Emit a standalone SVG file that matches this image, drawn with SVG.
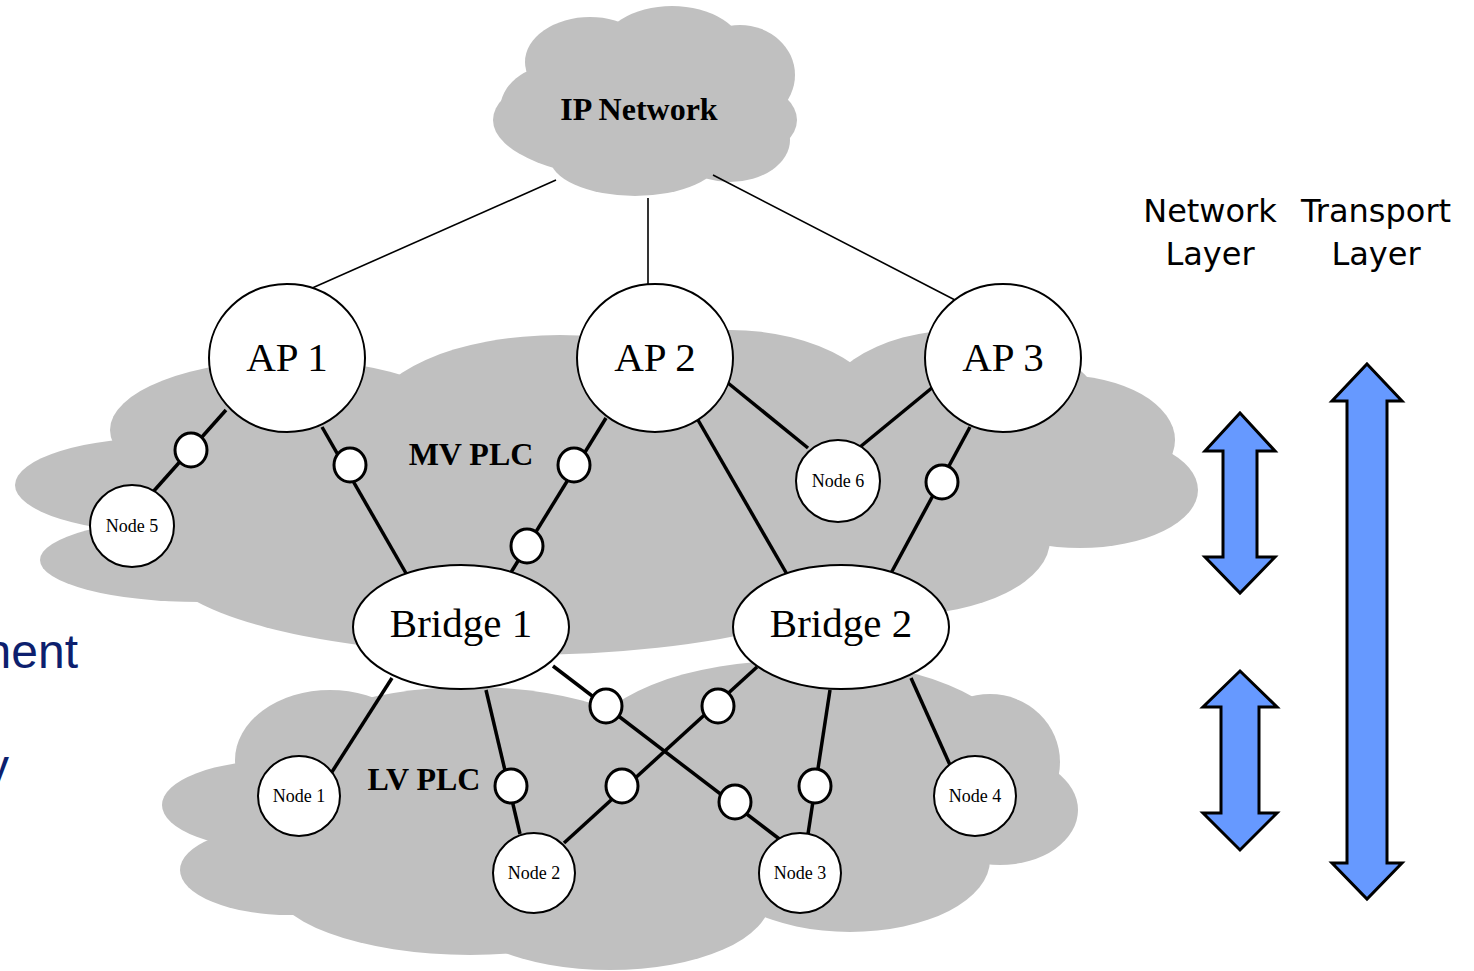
<svg xmlns="http://www.w3.org/2000/svg" width="1474" height="971" viewBox="0 0 1474 971">
  <style>
    .cloud { fill: #C0C0C0; stroke: none; }
    .node { fill: #FFFFFF; stroke: #000000; stroke-width: 2; }
    .rep { fill: #FFFFFF; stroke: #000000; stroke-width: 3; }
    .link { stroke: #000000; stroke-width: 3.5; fill: none; }
    .uplink { stroke: #000000; stroke-width: 1.6; fill: none; }
    .big { font-family: "Liberation Serif", "Times New Roman", serif; font-size: 41px; text-anchor: middle; fill: #000; }
    .small { font-family: "Liberation Serif", "Times New Roman", serif; font-size: 18px; text-anchor: middle; fill: #000; }
    .bold { font-family: "Liberation Serif", "Times New Roman", serif; font-size: 32px; font-weight: bold; text-anchor: middle; fill: #000; }
    .layer { font-family: "DejaVu Sans", "Liberation Sans", sans-serif; font-size: 32px; text-anchor: middle; fill: #000; }
    .slide { font-family: "Liberation Sans", Arial, sans-serif; font-size: 48px; fill: #0D1F6E; }
    .arrow { fill: #6699FF; stroke: #000000; stroke-width: 3; stroke-linejoin: miter; }
  </style>

  <!-- slide text clipped at the left edge -->
  <text class="slide" x="78" y="668" text-anchor="end">nent</text>
  <text class="slide" x="9" y="783" text-anchor="end">y</text>

  <!-- LV PLC cloud -->
  <g id="lv-cloud" class="cloud">
    <ellipse cx="330" cy="760" rx="95" ry="70"/>
    <ellipse cx="280" cy="805" rx="118" ry="45"/>
    <ellipse cx="290" cy="870" rx="110" ry="45"/>
    <ellipse cx="470" cy="880" rx="200" ry="75"/>
    <ellipse cx="610" cy="900" rx="160" ry="70"/>
    <ellipse cx="470" cy="765" rx="200" ry="78"/>
    <ellipse cx="800" cy="745" rx="210" ry="85"/>
    <ellipse cx="990" cy="762" rx="70" ry="68"/>
    <ellipse cx="1000" cy="810" rx="78" ry="55"/>
    <ellipse cx="850" cy="860" rx="140" ry="72"/>
    <ellipse cx="620" cy="810" rx="250" ry="100"/>
  </g>

  <!-- MV PLC cloud -->
  <g id="mv-cloud" class="cloud">
    <ellipse cx="170" cy="485" rx="155" ry="48"/>
    <ellipse cx="200" cy="560" rx="160" ry="42"/>
    <ellipse cx="290" cy="430" rx="180" ry="70"/>
    <ellipse cx="560" cy="420" rx="190" ry="85"/>
    <ellipse cx="730" cy="425" rx="160" ry="95"/>
    <ellipse cx="960" cy="430" rx="150" ry="100"/>
    <ellipse cx="1060" cy="440" rx="115" ry="65"/>
    <ellipse cx="1080" cy="490" rx="118" ry="58"/>
    <ellipse cx="900" cy="540" rx="150" ry="75"/>
    <ellipse cx="520" cy="560" rx="360" ry="95"/>
  </g>

  <!-- IP network cloud -->
  <g id="ip-network">
    <g class="cloud">
      <ellipse cx="590" cy="62" rx="65" ry="45"/>
      <ellipse cx="672" cy="52" rx="72" ry="46"/>
      <ellipse cx="740" cy="75" rx="55" ry="50"/>
      <ellipse cx="555" cy="110" rx="55" ry="45"/>
      <ellipse cx="645" cy="120" rx="152" ry="60"/>
      <ellipse cx="635" cy="158" rx="85" ry="38"/>
      <ellipse cx="730" cy="140" rx="60" ry="42"/>
    </g>
    <text class="bold" x="639" y="120">IP Network</text>
  </g>

  <!-- connectors -->
  <g id="connectors">
    <line class="uplink" x1="556" y1="180" x2="310" y2="289"/>
    <line class="uplink" x1="648" y1="198" x2="648" y2="285"/>
    <line class="uplink" x1="713" y1="175" x2="955" y2="300"/>

    <line class="link" x1="226" y1="410" x2="152" y2="493"/>
    <line class="link" x1="322" y1="427" x2="407" y2="575"/>
    <line class="link" x1="606" y1="418" x2="510" y2="574"/>
    <line class="link" x1="728" y1="383" x2="808" y2="448"/>
    <line class="link" x1="698" y1="420" x2="788" y2="576"/>
    <line class="link" x1="933" y1="387" x2="860" y2="447"/>
    <line class="link" x1="970" y1="427" x2="890" y2="575"/>

    <line class="link" x1="392" y1="678" x2="330" y2="775"/>
    <line class="link" x1="486" y1="690" x2="520" y2="834"/>
    <line class="link" x1="553" y1="666" x2="782" y2="841"/>
    <line class="link" x1="757" y1="667" x2="564" y2="843"/>
    <line class="link" x1="830" y1="690" x2="808" y2="834"/>
    <line class="link" x1="911" y1="678" x2="950" y2="765"/>
  </g>

  <!-- access points -->
  <g id="ap1"><ellipse class="node" cx="287" cy="358" rx="78" ry="74"/><text class="big" x="287" y="371">AP 1</text></g>
  <g id="ap2"><ellipse class="node" cx="655" cy="358" rx="78" ry="74"/><text class="big" x="655" y="371">AP 2</text></g>
  <g id="ap3"><ellipse class="node" cx="1003" cy="358" rx="78" ry="74"/><text class="big" x="1003" y="371">AP 3</text></g>

  <!-- bridges -->
  <g id="bridge1"><ellipse class="node" cx="461" cy="627" rx="108" ry="62"/><text class="big" x="461" y="637">Bridge 1</text></g>
  <g id="bridge2"><ellipse class="node" cx="841" cy="627" rx="108" ry="62"/><text class="big" x="841" y="637">Bridge 2</text></g>

  <!-- end nodes -->
  <g id="node5"><ellipse class="node" cx="132" cy="526" rx="42" ry="41"/><text class="small" x="132" y="532">Node 5</text></g>
  <g id="node6"><ellipse class="node" cx="838" cy="481" rx="42" ry="41"/><text class="small" x="838" y="487">Node 6</text></g>
  <g id="node1"><ellipse class="node" cx="299" cy="796" rx="41" ry="40"/><text class="small" x="299" y="802">Node 1</text></g>
  <g id="node2"><ellipse class="node" cx="534" cy="873" rx="41" ry="40"/><text class="small" x="534" y="879">Node 2</text></g>
  <g id="node3"><ellipse class="node" cx="800" cy="873" rx="41" ry="40"/><text class="small" x="800" y="879">Node 3</text></g>
  <g id="node4"><ellipse class="node" cx="975" cy="796" rx="41" ry="40"/><text class="small" x="975" y="802">Node 4</text></g>

  <!-- repeaters on the links -->
  <g id="repeaters">
    <ellipse class="rep" cx="191" cy="450" rx="16" ry="17"/>
    <ellipse class="rep" cx="350" cy="465" rx="16" ry="17"/>
    <ellipse class="rep" cx="574" cy="465" rx="16" ry="17"/>
    <ellipse class="rep" cx="527" cy="546" rx="16" ry="17"/>
    <ellipse class="rep" cx="942" cy="482" rx="16" ry="17"/>
    <ellipse class="rep" cx="606" cy="706" rx="16" ry="17"/>
    <ellipse class="rep" cx="718" cy="706" rx="16" ry="17"/>
    <ellipse class="rep" cx="511" cy="786" rx="16" ry="17"/>
    <ellipse class="rep" cx="622" cy="786" rx="16" ry="17"/>
    <ellipse class="rep" cx="735" cy="802" rx="16" ry="17"/>
    <ellipse class="rep" cx="815" cy="786" rx="16" ry="17"/>
  </g>

  <!-- cloud labels -->
  <text class="bold" x="471" y="465">MV PLC</text>
  <text class="bold" x="424" y="790">LV PLC</text>

  <!-- layer scope arrows -->
  <g id="layers">
    <text class="layer" x="1210" y="222">Network</text>
    <text class="layer" x="1210" y="265">Layer</text>
    <text class="layer" x="1376" y="222">Transport</text>
    <text class="layer" x="1376" y="265">Layer</text>
    <polygon class="arrow" points="1240,413 1275,451 1257,451 1257,557 1275,557 1240,593 1205,557 1223,557 1223,451 1205,451"/>
    <polygon class="arrow" points="1240,671 1277,707 1259,707 1259,813 1277,813 1240,850 1203,813 1221,813 1221,707 1203,707"/>
    <polygon class="arrow" points="1367,364 1402,401 1387,401 1387,863 1402,863 1367,899 1332,863 1347,863 1347,401 1332,401"/>
  </g>
</svg>
